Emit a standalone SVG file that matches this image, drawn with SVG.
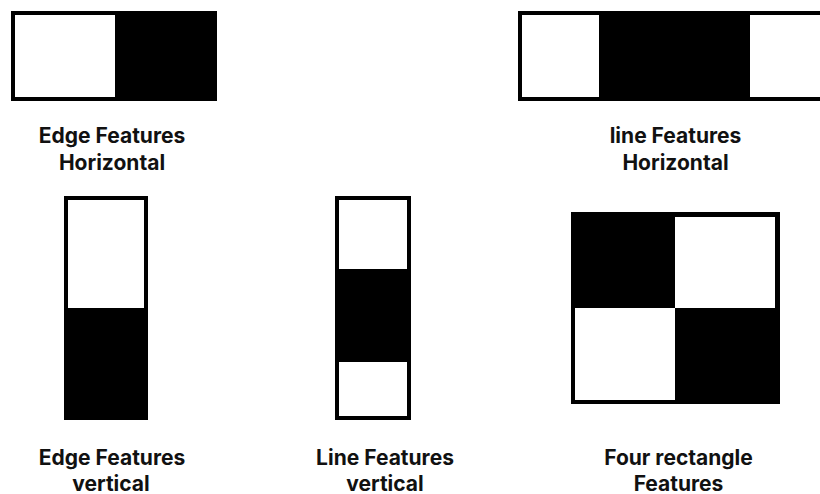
<svg xmlns="http://www.w3.org/2000/svg" width="820" height="494" viewBox="0 0 820 494">
<style>
.blk{fill:#000}
.wht{fill:#fff}
.lbl{font-family:Inter,"Noto Sans",sans-serif;font-weight:700;font-size:21px;fill:#111;text-anchor:middle}
</style>
<rect width="820" height="494" fill="#fff"/>
<g id="edge-horizontal">
<rect class="blk" x="11" y="11" width="206" height="90"/>
<rect class="wht" x="15" y="15" width="100" height="82"/>
<text class="lbl" x="112" y="143">Edge Features</text>
<text class="lbl" x="112" y="170">Horizontal</text>
</g>
<g id="line-horizontal">
<rect class="blk" x="518" y="11" width="310" height="90"/>
<rect class="wht" x="522" y="15" width="77" height="82"/>
<rect class="wht" x="750" y="15" width="80" height="82"/>
<text class="lbl" x="675.5" y="143">line Features</text>
<text class="lbl" x="675.5" y="170">Horizontal</text>
</g>
<g id="edge-vertical">
<rect class="blk" x="64" y="196" width="84" height="224"/>
<rect class="wht" x="68" y="200" width="76" height="108"/>
<text class="lbl" x="112" y="465">Edge Features</text>
<text class="lbl" x="111" y="491">vertical</text>
</g>
<g id="line-vertical">
<rect class="blk" x="335" y="196" width="76" height="224"/>
<rect class="wht" x="339" y="200" width="68" height="69"/>
<rect class="wht" x="339" y="362" width="68" height="54"/>
<text class="lbl" x="385" y="465">Line Features</text>
<text class="lbl" x="385" y="491">vertical</text>
</g>
<g id="four-rectangle">
<rect class="blk" x="571" y="212" width="209" height="192"/>
<rect class="wht" x="675" y="217" width="100" height="91"/>
<rect class="wht" x="575" y="308" width="100" height="92"/>
<text class="lbl" x="678.5" y="465">Four rectangle</text>
<text class="lbl" x="678.5" y="491">Features</text>
</g>
<g id="connectors"></g>
</svg>
